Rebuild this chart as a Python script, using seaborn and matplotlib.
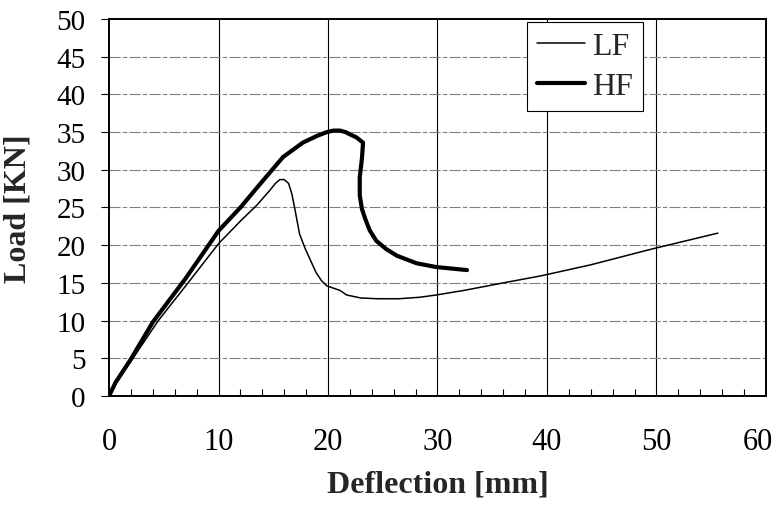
import numpy as np
import pandas as pd
import seaborn as sns
import matplotlib.pyplot as plt
import matplotlib.transforms as mtransforms
from matplotlib.ticker import MultipleLocator

# Load-deflection curves
lf_x = [0, 0.7, 2, 4.5, 7, 10, 12, 13.5, 14.7, 15.2, 15.6, 16.0, 16.4, 16.7,
        17.0, 17.4, 17.9, 18.4, 18.9, 19.4, 19.9, 20.5, 21.1, 21.7, 23, 24.5,
        26.5, 28.4, 29.9, 32.4, 36, 39.5, 44, 49.6, 55.6]
lf_y = [0, 1.8, 4.6, 10, 14.6, 20.2, 23.2, 25.3, 27.3, 28.2, 28.7, 28.7, 28.2,
        26.8, 24.6, 21.5, 19.6, 18.0, 16.4, 15.3, 14.6, 14.3, 14.0, 13.4, 13.0,
        12.9, 12.9, 13.1, 13.4, 14.0, 15.0, 15.95, 17.4, 19.5, 21.6]

hf_x = [0, 0.6, 2, 4, 7, 10, 12, 13.5, 14.9, 15.9, 17.7, 19.0, 19.9, 20.5,
        21.1, 21.6, 22.0, 22.6, 23.2, 23.1, 22.9, 22.9, 23.1, 23.4, 23.8, 24.4,
        25.3, 26.3, 28.1, 29.9, 31.3, 32.7]
hf_y = [0, 1.8, 4.9, 9.8, 15.6, 21.9, 25.0, 27.6, 30.0, 31.7, 33.6, 34.5, 35.0,
        35.2, 35.2, 35.0, 34.7, 34.3, 33.6, 31.5, 29.0, 26.6, 24.8, 23.5, 22.0,
        20.6, 19.5, 18.6, 17.6, 17.1, 16.9, 16.7]

x_ticks = [0, 10, 20, 30, 40, 50, 60]
y_ticks = [0, 5, 10, 15, 20, 25, 30, 35, 40, 45, 50]

lf = pd.DataFrame({'x': lf_x, 'y': lf_y})
hf = pd.DataFrame({'x': hf_x, 'y': hf_y})

sns.set_style('white')
plt.rcParams['font.family'] = ['Liberation Serif', 'DejaVu Serif']

fig = plt.figure(figsize=(7.77, 5.06), dpi=100)
ax = fig.add_axes([0.1403, 0.2154, 0.8455, 0.7451])

sns.lineplot(data=lf, x='x', y='y', sort=False, estimator=None, color='black',
             linewidth=1.1, label='LF', ax=ax)
sns.lineplot(data=hf, x='x', y='y', sort=False, estimator=None, color='black',
             linewidth=3.0, label='HF', ax=ax)

ax.set_xlim(0, 60)
ax.set_ylim(0, 50)
ax.set_xticks(x_ticks)
ax.set_yticks(y_ticks)
ax.xaxis.set_minor_locator(MultipleLocator(2))

# gridlines: solid verticals, dashed grey horizontals
for xv in x_ticks[1:-1]:
    ax.axvline(xv, color='black', linewidth=0.8, zorder=1)
for yv in y_ticks[1:-1]:
    ax.axhline(yv, color='0.5', linewidth=0.8, linestyle=(0, (10, 2, 4, 2)), zorder=1)

for sp in ax.spines.values():
    sp.set_color('black')
    sp.set_linewidth(1.4)

ax.tick_params(axis='x', which='major', direction='in', length=0, pad=22,
               labelsize=22, colors='black')
ax.tick_params(axis='x', which='minor', direction='in', length=5, width=0.8,
               bottom=True, color='black')
ax.tick_params(axis='y', which='major', direction='out', length=6, width=0.8,
               pad=11, labelsize=21, colors='black', left=True)

# the last x label sits a little inside the right edge
last = ax.get_xticklabels()[-1]
last.set_transform(last.get_transform() +
                   mtransforms.ScaledTranslation(-0.08, 0, fig.dpi_scale_trans))

ax.set_xlabel('Deflection [mm]', fontsize=23, fontweight='bold', labelpad=10)
ax.set_ylabel('Load [KN]', fontsize=23, fontweight='bold')
ax.yaxis.set_label_coords(-0.117, 0.5)

leg = ax.legend(loc='upper right', bbox_to_anchor=(0.8128, 0.992),
                borderaxespad=0, fontsize=23, frameon=True, fancybox=False,
                handlelength=1.5, handletextpad=0.25, labelspacing=0.34,
                borderpad=0.3)
leg.get_frame().set_edgecolor('black')
leg.get_frame().set_linewidth(0.8)
leg.get_frame().set_alpha(1)

fig.savefig('out.png', dpi=100)
